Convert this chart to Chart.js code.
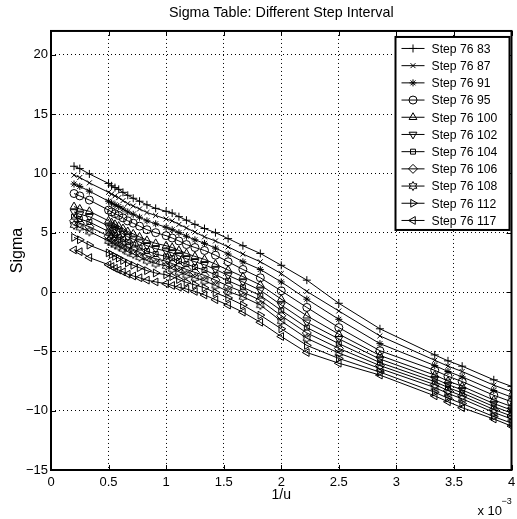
<!DOCTYPE html>
<html>
<head>
<meta charset="utf-8">
<script src="https://cdn.jsdelivr.net/npm/chart.js@4.4.1/dist/chart.umd.min.js"></script>
<style>
  html, body { margin: 0; padding: 0; background: #fff; }
  #wrap { position: relative; width: 517px; height: 519px; }
</style>
</head>
<body>
<div id="wrap"><canvas id="c" width="517" height="519"></canvas></div>
<script>
// Sigma versus 1/u (x axis in units of 1e-3) for different step intervals.
const FONT = "'Liberation Sans',Arial,Helvetica,sans-serif";

const invU = [0.2, 0.25, 0.3333, 0.5, 0.5263, 0.5556, 0.5882, 0.625, 0.6667, 0.7143, 0.7692,
  0.8333, 0.9091, 1.0, 1.0526, 1.1111, 1.1765, 1.25, 1.3333, 1.4286, 1.5385, 1.6667, 1.8182,
  2.0, 2.2222, 2.5, 2.8571, 3.3333, 3.4483, 3.5714, 3.8462, 4.0];

const step83  = [10.6, 10.4, 9.95, 9.15, 8.95, 8.8, 8.65, 8.4, 8.15, 7.9, 7.65, 7.35, 7.05, 6.8, 6.65, 6.35, 6.05, 5.7, 5.35, 5.0, 4.5, 3.9, 3.25, 2.25, 1.0, -0.95, -3.1, -5.3, -5.8, -6.25, -7.4, -7.95];
const step87  = [9.85, 9.65, 9.2, 8.4, 8.25, 8.1, 7.95, 7.7, 7.45, 7.25, 7.0, 6.7, 6.45, 6.15, 6.0, 5.7, 5.4, 5.05, 4.65, 4.3, 3.8, 3.2, 2.55, 1.55, 0.05, -1.6, -3.7, -5.75, -6.25, -6.7, -7.85, -8.4];
const step91  = [9.1, 8.9, 8.5, 7.65, 7.5, 7.35, 7.2, 7.0, 6.75, 6.55, 6.3, 6.0, 5.75, 5.45, 5.25, 5.0, 4.7, 4.4, 4.1, 3.7, 3.2, 2.55, 1.9, 0.85, -0.6, -2.3, -4.35, -6.2, -6.7, -7.15, -8.3, -8.85];
const step95  = [8.3, 8.1, 7.75, 6.9, 6.75, 6.6, 6.45, 6.25, 6.0, 5.8, 5.55, 5.25, 5.0, 4.75, 4.55, 4.3, 4.0, 3.75, 3.5, 3.1, 2.55, 1.9, 1.2, 0.1, -1.3, -3.0, -4.95, -6.6, -7.1, -7.55, -8.7, -9.25];
const step100 = [7.2, 7.0, 6.8, 6.0, 5.85, 5.7, 5.55, 5.35, 5.1, 4.9, 4.65, 4.35, 4.1, 3.9, 3.75, 3.5, 3.25, 3.0, 2.75, 2.35, 1.85, 1.3, 0.6, -0.6, -2.0, -3.55, -5.35, -7.0, -7.5, -7.95, -9.1, -9.65];
const step102 = [6.75, 6.55, 6.35, 5.55, 5.4, 5.25, 5.1, 4.9, 4.65, 4.45, 4.2, 3.9, 3.65, 3.45, 3.3, 3.05, 2.8, 2.55, 2.3, 1.9, 1.4, 0.85, 0.15, -1.1, -2.55, -3.95, -5.65, -7.3, -7.8, -8.25, -9.4, -9.95];
const step104 = [6.35, 6.15, 5.9, 5.1, 4.95, 4.8, 4.65, 4.45, 4.2, 4.0, 3.75, 3.45, 3.2, 3.0, 2.85, 2.6, 2.35, 2.1, 1.85, 1.45, 0.95, 0.4, -0.3, -1.55, -3.0, -4.35, -5.95, -7.55, -8.05, -8.5, -9.65, -10.2];
const step106 = [6.0, 5.8, 5.5, 4.7, 4.55, 4.4, 4.25, 4.05, 3.8, 3.6, 3.35, 3.05, 2.8, 2.6, 2.4, 2.15, 1.9, 1.65, 1.4, 1.0, 0.5, 0.0, -0.7, -2.0, -3.45, -4.75, -6.2, -7.8, -8.3, -8.75, -9.9, -10.45];
const step108 = [5.65, 5.45, 5.1, 4.3, 4.15, 4.0, 3.85, 3.65, 3.4, 3.2, 2.95, 2.65, 2.4, 2.2, 1.95, 1.7, 1.45, 1.2, 0.95, 0.55, 0.05, -0.4, -1.1, -2.45, -3.9, -5.15, -6.45, -8.05, -8.55, -9.0, -10.15, -10.7];
const step112 = [4.6, 4.4, 3.95, 3.3, 3.15, 3.0, 2.85, 2.65, 2.45, 2.25, 2.05, 1.8, 1.6, 1.45, 1.3, 1.05, 0.8, 0.6, 0.35, -0.05, -0.5, -1.1, -1.95, -3.1, -4.5, -5.6, -6.75, -8.45, -8.95, -9.4, -10.5, -11.05];
const step117 = [3.55, 3.4, 2.9, 2.3, 2.15, 2.0, 1.85, 1.7, 1.5, 1.35, 1.2, 1.0, 0.85, 0.7, 0.55, 0.4, 0.25, 0.05, -0.25, -0.65, -1.1, -1.7, -2.55, -3.75, -5.1, -6.0, -7.0, -8.75, -9.25, -9.75, -10.7, -11.3];

const seriesLabels = ['Step 76 83', 'Step 76 87', 'Step 76 91', 'Step 76 95', 'Step 76 100',
  'Step 76 102', 'Step 76 104', 'Step 76 106', 'Step 76 108', 'Step 76 112', 'Step 76 117'];
const seriesValues = [step83, step87, step91, step95, step100, step102, step104, step106, step108, step112, step117];

const xTicks = [0, 0.5, 1, 1.5, 2, 2.5, 3, 3.5, 4];
const yTicks = [-15, -10, -5, 0, 5, 10, 15, 20];

// six-pointed star outline used as a marker
function hexagram(r) {
  const s = Math.ceil(2 * r + 3);
  const c = document.createElement('canvas');
  c.width = s; c.height = s;
  const g = c.getContext('2d');
  const cx = s / 2, cy = s / 2, ri = r / Math.sqrt(3);
  g.beginPath();
  for (let k = 0; k < 12; k++) {
    const a = -Math.PI / 2 + k * Math.PI / 6;
    const rr = k % 2 === 0 ? r : ri;
    const px = cx + rr * Math.cos(a), py = cy + rr * Math.sin(a);
    if (k === 0) g.moveTo(px, py); else g.lineTo(px, py);
  }
  g.closePath();
  g.strokeStyle = '#000';
  g.lineWidth = 1;
  g.stroke();
  return c;
}

const markerStyles = [
  { style: 'cross', rot: 0, r: 4 },
  { style: 'crossRot', rot: 0, r: 3.5 },
  { style: 'star', rot: 0, r: 3.5 },
  { style: 'circle', rot: 0, r: 4 },
  { style: 'triangle', rot: 0, r: 4.5 },
  { style: 'triangle', rot: 180, r: 4.5 },
  { style: 'rect', rot: 0, r: 3.5 },
  { style: 'rectRot', rot: 0, r: 4.5 },
  { style: hexagram(4.5), rot: 0, r: 4.5 },
  { style: 'triangle', rot: 90, r: 4.5 },
  { style: 'triangle', rot: -90, r: 4.5 }
];

const datasets = seriesValues.map((vals, i) => ({
  label: seriesLabels[i],
  data: invU.map((x, j) => ({ x: x, y: vals[j] })),
  borderColor: '#000',
  borderWidth: 1,
  pointStyle: markerStyles[i].style,
  pointRotation: markerStyles[i].rot,
  pointRadius: markerStyles[i].r,
  pointBorderColor: '#000',
  pointBackgroundColor: 'rgba(0,0,0,0)',
  pointBorderWidth: 1,
  pointHoverRadius: markerStyles[i].r,
  tension: 0,
  fill: false
}));

const minusFmt = v => (v < 0 ? '\u2212' + Math.abs(v) : String(v));

// axes frame, inward tick marks, exponent note and boxed legend
const matlabAxes = {
  id: 'matlabAxes',
  afterDatasetsDraw(chart) {
    const { ctx, chartArea: a, scales } = chart;
    const xs = scales.x, ys = scales.y;
    ctx.save();
    ctx.strokeStyle = '#000';
    ctx.lineWidth = 1;
    ctx.beginPath();
    xTicks.forEach(v => {
      const px = Math.round(xs.getPixelForValue(v)) + 0.5;
      ctx.moveTo(px, a.bottom); ctx.lineTo(px, a.bottom - 5);
      ctx.moveTo(px, a.top); ctx.lineTo(px, a.top + 5);
    });
    yTicks.forEach(v => {
      const py = Math.round(ys.getPixelForValue(v)) + 0.5;
      ctx.moveTo(a.left, py); ctx.lineTo(a.left + 5, py);
      ctx.moveTo(a.right, py); ctx.lineTo(a.right - 5, py);
    });
    ctx.stroke();
    ctx.lineWidth = 2;
    ctx.strokeRect(a.left, a.top, a.right - a.left, a.bottom - a.top);

    // exponent of the x axis
    ctx.fillStyle = '#000';
    ctx.textBaseline = 'alphabetic';
    ctx.textAlign = 'left';
    ctx.font = '13px ' + FONT;
    ctx.fillText('x 10', a.right - 34, a.bottom + 45);
    ctx.font = '9px ' + FONT;
    ctx.fillText('\u22123', a.right - 10, a.bottom + 34);

    // legend
    const bx = a.right - 116, by = a.top + 6, bw = 114, bh = 193;
    ctx.fillStyle = '#fff';
    ctx.fillRect(bx, by, bw, bh);
    ctx.lineWidth = 2;
    ctx.strokeRect(bx, by, bw, bh);
    ctx.font = '12.2px ' + FONT;
    ctx.textBaseline = 'middle';
    chart.data.datasets.forEach((ds, i) => {
      const ry = by + 11.5 + i * 17.2;
      ctx.lineWidth = 1;
      ctx.strokeStyle = '#000';
      ctx.beginPath();
      ctx.moveTo(bx + 6, ry); ctx.lineTo(bx + 29, ry);
      ctx.stroke();
      ctx.fillStyle = 'rgba(0,0,0,0)';
      Chart.helpers.drawPoint(ctx, {
        pointStyle: ds.pointStyle, rotation: ds.pointRotation,
        radius: ds.pointRadius, borderWidth: 1
      }, bx + 17.5, ry);
      ctx.fillStyle = '#000';
      ctx.fillText(ds.label, bx + 36, ry + 1);
    });
    ctx.restore();
  }
};

new Chart(document.getElementById('c'), {
  type: 'line',
  data: { datasets: datasets },
  plugins: [matlabAxes],
  options: {
    responsive: false,
    animation: false,
    devicePixelRatio: 1,
    layout: { padding: { left: 0, right: 1, top: 0, bottom: 0 } },
    plugins: {
      legend: { display: false },
      tooltip: { enabled: false },
      title: {
        display: true,
        text: 'Sigma Table: Different Step Interval',
        fullSize: false,
        color: '#000',
        font: { family: FONT, size: 14.3, weight: 'normal', lineHeight: 1.2 },
        padding: { top: 4.5, bottom: 9.3 }
      }
    },
    scales: {
      x: {
        type: 'linear',
        min: 0, max: 4,
        afterBuildTicks: s => { s.ticks = xTicks.map(v => ({ value: v })); },
        afterFit: s => { s.height = 49; s.paddingLeft = 0; s.paddingRight = 0; },
        ticks: { color: '#000', padding: 5, maxRotation: 0, autoSkip: false,
                 font: { family: FONT, size: 13 }, callback: v => minusFmt(v) },
        grid: { color: '#000', lineWidth: 1, drawTicks: false },
        border: { display: false, dash: [1, 3] },
        title: { display: true, text: '1/u', color: '#000',
                 font: { family: FONT, size: 14, lineHeight: 1.2 }, padding: { top: 0, bottom: 15.6 } }
      },
      y: {
        type: 'linear',
        min: -15, max: 22,
        afterBuildTicks: s => { s.ticks = yTicks.map(v => ({ value: v })); },
        afterFit: s => { s.width = 51; s.paddingTop = 0; s.paddingBottom = 0; },
        ticks: { color: '#000', padding: 3, autoSkip: false,
                 font: { family: FONT, size: 13 }, callback: v => minusFmt(v) },
        grid: { color: '#000', lineWidth: 1, drawTicks: false },
        border: { display: false, dash: [1, 3] },
        title: { display: true, text: 'Sigma', color: '#000',
                 font: { family: FONT, size: 16, lineHeight: 1.2 }, padding: { top: 8.4, bottom: 0 } }
      }
    }
  }
});
</script>
</body>
</html>
